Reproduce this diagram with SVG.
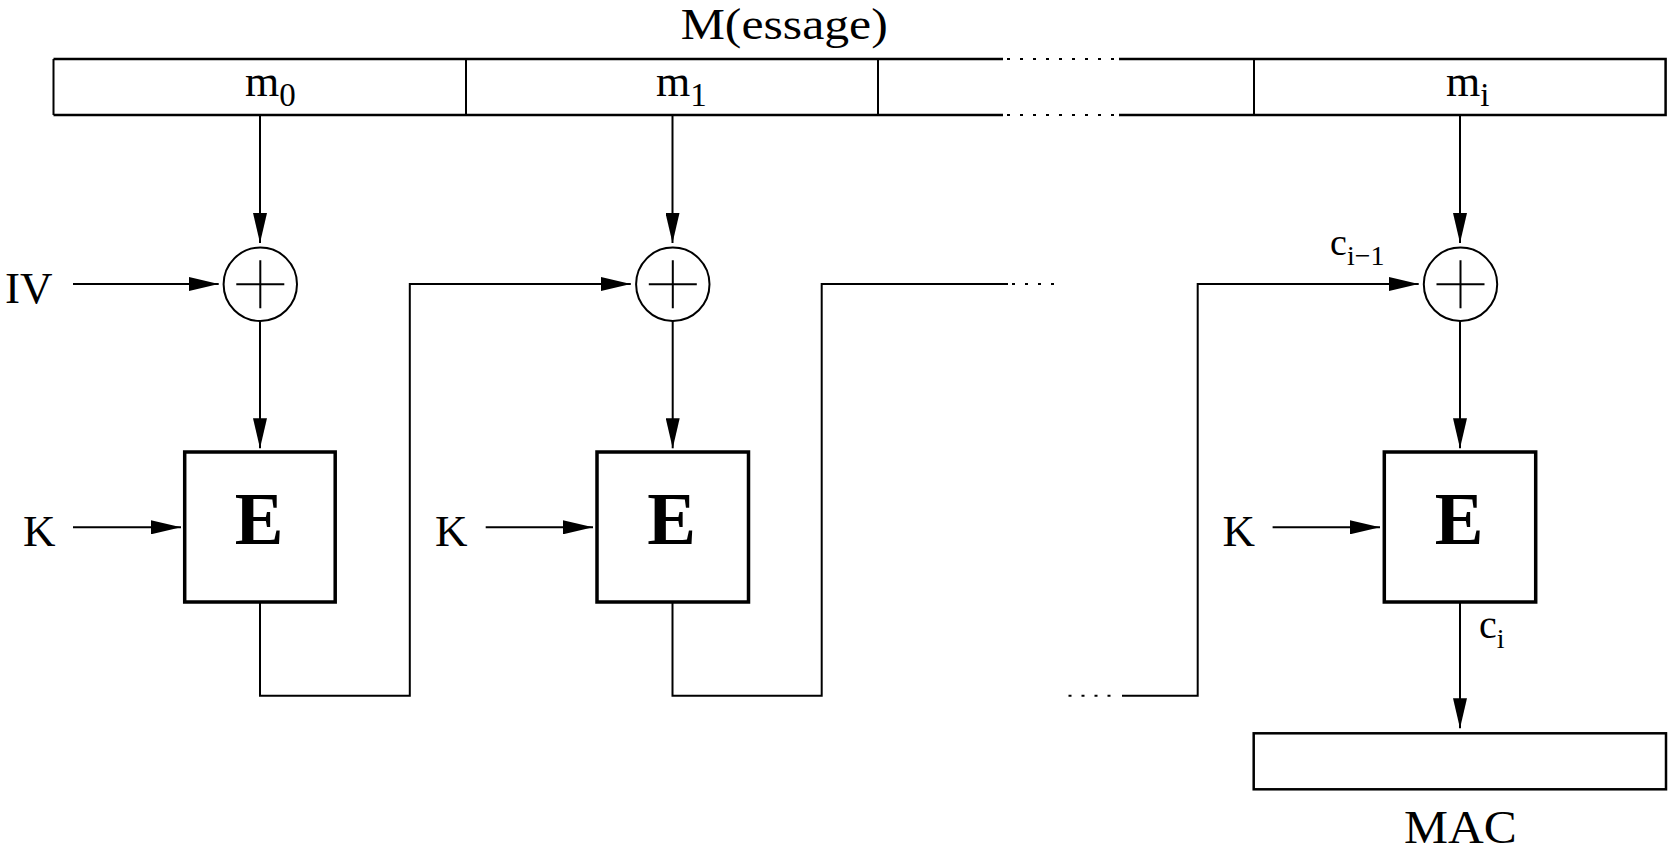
<svg xmlns="http://www.w3.org/2000/svg" width="1671" height="850" viewBox="0 0 1671 850">
<style>
.t{font-family:"Liberation Serif","Times New Roman",serif;fill:#000}
.ln{fill:none;stroke:#000;stroke-width:2}
.dot{fill:none;stroke:#000;stroke-width:2;stroke-dasharray:3 10}
.box{fill:#fff;stroke:#000;stroke-width:2.5}
.ebox{fill:#fff;stroke:#000;stroke-width:3.5}
.E{font-family:"Liberation Serif","Times New Roman",serif;font-weight:bold;font-size:73px;text-anchor:middle}
</style>
<defs>
<marker id="ah" markerUnits="userSpaceOnUse" markerWidth="30" markerHeight="14" refX="30" refY="7" orient="auto">
<path d="M0,0 L30,7 L0,14 z" fill="#000"/>
</marker>
</defs>
<rect width="1671" height="850" fill="#fff"/>

<g id="message">
<text class="t" x="680.7" y="39.3" font-size="45" textLength="207" lengthAdjust="spacingAndGlyphs">M(essage)</text>
<path class="box" d="M53.5,59 H1003 M1119,59 H1665.6 V115 H1119 M1003,115 H53.5 Z"/>
<path class="ln" d="M53.5,59 V115 M466,59 V115 M878,59 V115 M1254,59 V115" stroke-width="2.5"/>
<path class="dot" d="M1007,59 H1119 M1007,115 H1119" stroke-width="2.5"/>
<text class="t" x="245" y="96" font-size="44">m<tspan font-size="33" dy="10">0</tspan></text>
<text class="t" x="656" y="96" font-size="44">m<tspan font-size="33" dy="10">1</tspan></text>
<text class="t" x="1446" y="96" font-size="44">m<tspan font-size="33" dy="10">i</tspan></text>
</g>

<g id="iv"><text class="t" x="5" y="302.7" font-size="45">IV</text></g>

<g id="xor1"><circle class="ln" cx="260.3" cy="284.3" r="36.7"/><path class="ln" d="M236.3,284.3 H284.3 M260.3,260.3 V308.3"/></g>
<g id="xor2"><circle class="ln" cx="672.8" cy="284.3" r="36.7"/><path class="ln" d="M648.8,284.3 H696.8 M672.8,260.3 V308.3"/></g>
<g id="xor3"><circle class="ln" cx="1460.5" cy="284.3" r="36.7"/><path class="ln" d="M1436.5,284.3 H1484.5 M1460.5,260.3 V308.3"/></g>

<g id="e1"><rect class="ebox" x="184.7" y="452" width="150.5" height="150"/><text class="E" x="259" y="544">E</text></g>
<g id="e2"><rect class="ebox" x="597" y="452" width="151.5" height="150"/><text class="E" x="671.7" y="544">E</text></g>
<g id="e3"><rect class="ebox" x="1384.3" y="452" width="151.4" height="150"/><text class="E" x="1459" y="544">E</text></g>

<g id="k1"><text class="t" x="23" y="545.7" font-size="45">K</text></g>
<g id="k2"><text class="t" x="435" y="545.7" font-size="45">K</text></g>
<g id="k3"><text class="t" x="1222.5" y="545.7" font-size="45">K</text></g>

<g id="labels">
<text class="t" x="1330" y="255" font-size="38">c<tspan font-size="28" dy="10">i−1</tspan></text>
<text class="t" x="1479" y="638" font-size="40">c<tspan font-size="28" dy="10">i</tspan></text>
</g>

<g id="mac"><rect class="box" x="1253.7" y="733.3" width="412.3" height="56"/><text class="t" x="1404" y="842.5" font-size="46" textLength="112.7" lengthAdjust="spacingAndGlyphs">MAC</text></g>

<g id="connectors">
<path class="ln" d="M260,115 V243" marker-end="url(#ah)"/>
<path class="ln" d="M672.5,115 V243" marker-end="url(#ah)"/>
<path class="ln" d="M1460,115 V243" marker-end="url(#ah)"/>
<path class="ln" d="M73,284 H218.7" marker-end="url(#ah)"/>
<path class="ln" d="M260,321 V448.3" marker-end="url(#ah)"/>
<path class="ln" d="M672.7,321 V448.3" marker-end="url(#ah)"/>
<path class="ln" d="M1460,321 V448.3" marker-end="url(#ah)"/>
<path class="ln" d="M73,527.3 H181" marker-end="url(#ah)"/>
<path class="ln" d="M485.7,527.3 H593" marker-end="url(#ah)"/>
<path class="ln" d="M1272.6,527.3 H1380" marker-end="url(#ah)"/>
<path class="ln" d="M260,602 V695.7 H409.8 V284 H630.8" marker-end="url(#ah)"/>
<path class="ln" d="M672.5,602 V695.7 H821.7 V284 H1008"/>
<path class="dot" d="M1012,284 H1062"/>
<path class="dot" d="M1068.5,695.7 H1118"/>
<path class="ln" d="M1122,695.7 H1197.7 V284 H1418.7" marker-end="url(#ah)"/>
<path class="ln" d="M1460,602 V728.3" marker-end="url(#ah)"/>
</g>
</svg>
